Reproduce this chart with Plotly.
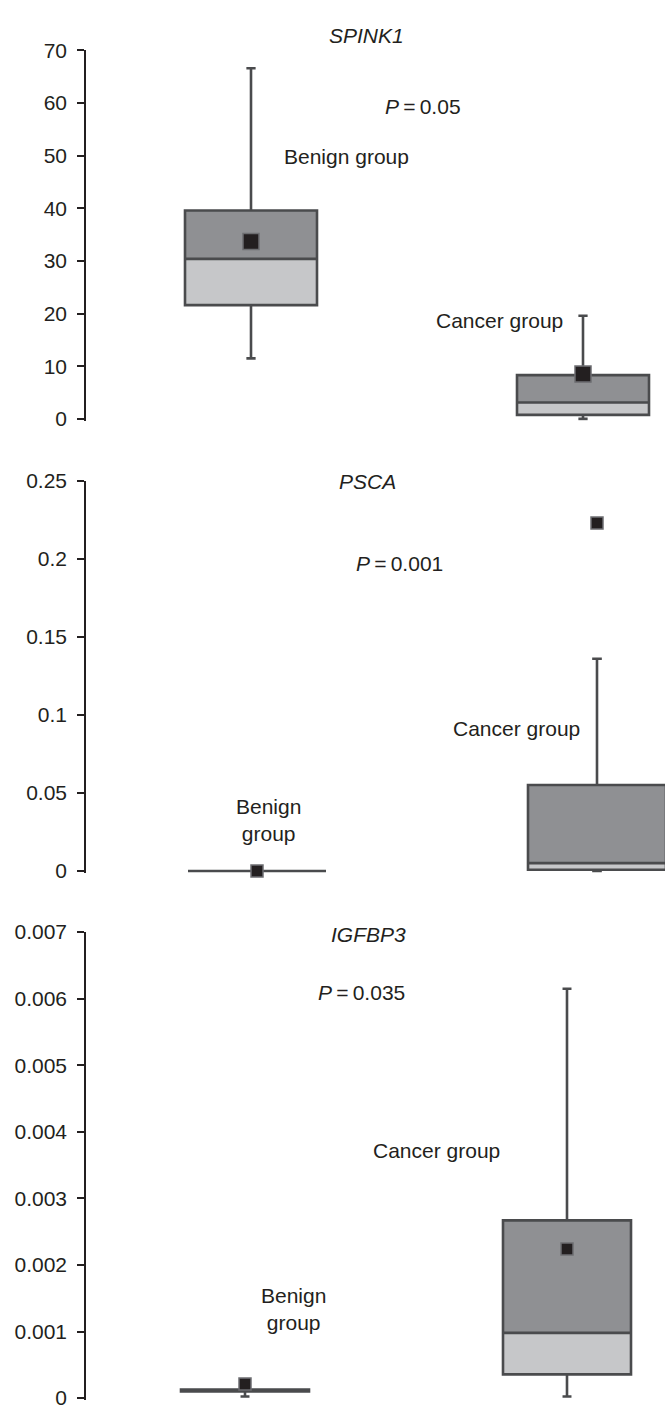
import plotly.graph_objects as go

# ---------------- data ----------------
groups = ["Benign group", "Cancer group"]
genes = ["SPINK1", "PSCA", "IGFBP3"]
p_values = ["0.05", "0.001", "0.035"]

spink1_lower = [11.5, 0.0]
spink1_q1 = [21.6, 0.75]
spink1_median = [30.4, 3.1]
spink1_q3 = [39.6, 8.3]
spink1_upper = [66.6, 19.6]
spink1_mean = [33.7, 8.5]

psca_lower = [0.0, 0.0]
psca_q1 = [0.0, 0.00084]
psca_median = [0.0, 0.00505]
psca_q3 = [0.0, 0.0551]
psca_upper = [0.0, 0.136]
psca_mean = [0.0, 0.223]

igfbp3_lower = [0.000025, 0.000025]
igfbp3_q1 = [0.000098, 0.000356]
igfbp3_median = [0.000112, 0.00098]
igfbp3_q3 = [0.000128, 0.00267]
igfbp3_upper = [0.000128, 0.00615]
igfbp3_mean = [0.00021, 0.00224]

y_max = [70, 0.25, 0.007]
y_dtick = [10, 0.05, 0.001]

stats = [
    (spink1_lower, spink1_q1, spink1_median, spink1_q3, spink1_upper, spink1_mean),
    (psca_lower, psca_q1, psca_median, psca_q3, psca_upper, psca_mean),
    (igfbp3_lower, igfbp3_q1, igfbp3_median, igfbp3_q3, igfbp3_upper, igfbp3_mean),
]

# ---------------- layout constants ----------------
W, H = 665, 1413
AXIS_X = 86
panel_px = [(39, 413), (476, 872), (934, 1407)]      # (top value pixel, zero pixel)
center_px = [(251, 583), (257, 597), (245, 567)]
box_w_px = [132, 138, 128]
mean_size = [16, 12, 12]

# label positions: x in category-index units, y in data units (titles: y in pixels)
title_pos = [(0.349, 24), (0.326, 477), (0.385, 936)]
p_pos = [(0.518, 59.3), (0.418, 0.197), (0.363, 0.0061)]
benign_pos = [(0.289, 49.8), (0.035, 0.0328), (0.152, 0.00134)]
cancer_pos = [(0.747, 18.7), (0.762, 0.0915), (0.596, 0.00372)]
benign_text = ["Benign group", "Benign<br>group", "Benign<br>group"]

DARK = "#8f9093"
LIGHT = "#c6c7c9"
OUTLINE = "#4a4b4d"
INK = "#231f20"
FONT = "Liberation Sans, Arial, sans-serif"
FS = 21

fig = go.Figure()
layout = dict(
    width=W, height=H,
    margin=dict(l=AXIS_X, r=0, t=0, b=0, pad=0),
    paper_bgcolor="white", plot_bgcolor="white",
    showlegend=False, barmode="overlay", boxmode="overlay",
    font=dict(family=FONT, size=FS, color=INK),
)
annotations = []

for i in range(3):
    lo, q1, med, q3, up, mean = stats[i]
    sfx = "" if i == 0 else str(i + 1)
    xa, ya = "x" + sfx, "y" + sfx
    top_px, zero_px = panel_px[i]
    ppu = (zero_px - top_px) / y_max[i]
    ext = 2.0
    bottom_px = zero_px + ext
    y_lo = -ext / ppu
    dom = [(H - bottom_px) / H, (H - top_px) / H]
    c0, c1 = center_px[i]
    unit = c1 - c0
    xr = [-(c0 - AXIS_X) / unit, 1 + (W - c1) / unit]
    bw = box_w_px[i] / unit

    # lower (light) and upper (dark) halves of the box
    fig.add_trace(go.Bar(x=groups, base=q1, y=[m - a for m, a in zip(med, q1)],
                         width=bw, marker=dict(color=LIGHT, line=dict(width=0)),
                         xaxis=xa, yaxis=ya, hoverinfo="skip"))
    fig.add_trace(go.Bar(x=groups, base=med, y=[b - m for b, m in zip(q3, med)],
                         width=bw, marker=dict(color=DARK, line=dict(width=0)),
                         xaxis=xa, yaxis=ya, hoverinfo="skip"))
    # outline, median and whiskers
    fig.add_trace(go.Box(x=groups, q1=q1, median=med, q3=q3,
                         lowerfence=lo, upperfence=up, width=bw,
                         whiskerwidth=0.07, boxpoints=False,
                         fillcolor="rgba(0,0,0,0)",
                         line=dict(color=OUTLINE, width=2.6),
                         xaxis=xa, yaxis=ya))
    # mean markers
    fig.add_trace(go.Scatter(x=groups, y=mean, mode="markers",
                             marker=dict(symbol="square", size=mean_size[i], color=INK,
                                         line=dict(color="#6d6e71", width=1.5)),
                             cliponaxis=False, xaxis=xa, yaxis=ya))

    layout["xaxis" + sfx] = dict(domain=[0, 1], range=xr, type="category",
                                  categoryorder="array", categoryarray=groups,
                                  visible=False, anchor=ya, fixedrange=True)
    layout["yaxis" + sfx] = dict(domain=dom, range=[y_lo, y_max[i]], anchor=xa,
                                  tick0=0, dtick=y_dtick[i], showgrid=False, zeroline=False,
                                  showline=True, linecolor=INK, linewidth=1.5,
                                  ticks="outside", ticklen=7, tickwidth=1.5, tickcolor=INK,
                                  ticklabelstandoff=6,
                                  tickfont=dict(family=FONT, size=FS, color=INK))

    def ann(text, x, y, yref):
        annotations.append(dict(text=text, x=x, y=y, xref=xa, yref=yref,
                                showarrow=False, xanchor="center", yanchor="middle",
                                font=dict(family=FONT, size=FS, color=INK)))

    ann("<i>" + genes[i] + "</i>", title_pos[i][0], (H - title_pos[i][1]) / H, "paper")
    ann("<i>P</i>\u2009=\u2009" + p_values[i], p_pos[i][0], p_pos[i][1], ya)
    ann(benign_text[i], benign_pos[i][0], benign_pos[i][1], ya)
    ann("Cancer group", cancer_pos[i][0], cancer_pos[i][1], ya)

layout["annotations"] = annotations
fig.update_layout(**layout)
fig.write_html("out.html",
               config={"displayModeBar": False},
               post_script="document.body.style.margin='0';document.body.style.overflow='hidden';")
